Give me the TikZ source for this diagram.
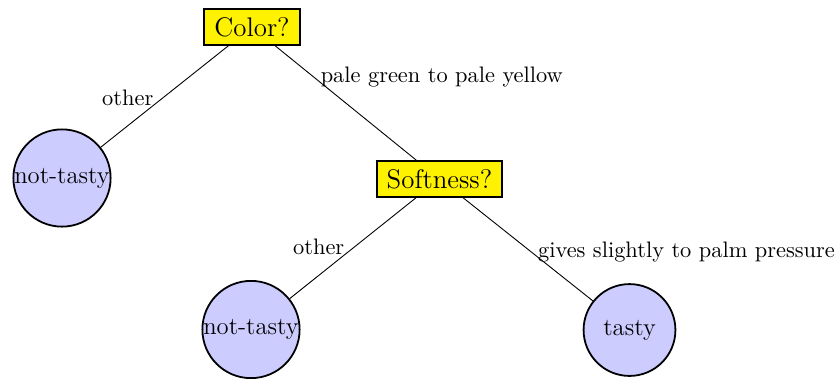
\documentclass[tikz,border=0pt]{standalone}
\begin{document}
\begin{tikzpicture}[x=0.4464pt,y=-0.4464pt,
  question/.style={draw,thick,fill=yellow,rectangle,font=\large,
    inner xsep=4.5pt,inner ysep=3.6pt,minimum height=15.6pt},
  leaf/.style={draw,thick,fill=blue!20,circle,inner sep=0pt,
    minimum size=41pt,font=\fontsize{11}{13}\selectfont},
  edgelabel/.style={inner sep=0pt,font=\normalsize},
  conn/.style={draw,thin}]
\useasboundingbox (0,0) rectangle (840,378);
\node[question] (color) at (252,27) {Color?};
\node[question] (soft) at (439.5,179) {Softness?};
\node[leaf] (nt1) at (62,178) {not-tasty};
\node[leaf] (nt2) at (251,329.5) {not-tasty};
\node[leaf] (tasty) at (629.5,330) {tasty};
\path[conn] (color) -- node[edgelabel,pos=0.585,anchor=base east] {other} (nt1);
\path[conn] (color) -- node[edgelabel,pos=0.32,anchor=base west] {pale green to pale yellow} (soft);
\path[conn] (soft) -- node[edgelabel,pos=0.565,anchor=base east] {other} (nt2);
\path[conn] (soft) -- node[edgelabel,pos=0.575,anchor=base west] {gives slightly to palm pressure} (tasty);
\end{tikzpicture}
\end{document}
